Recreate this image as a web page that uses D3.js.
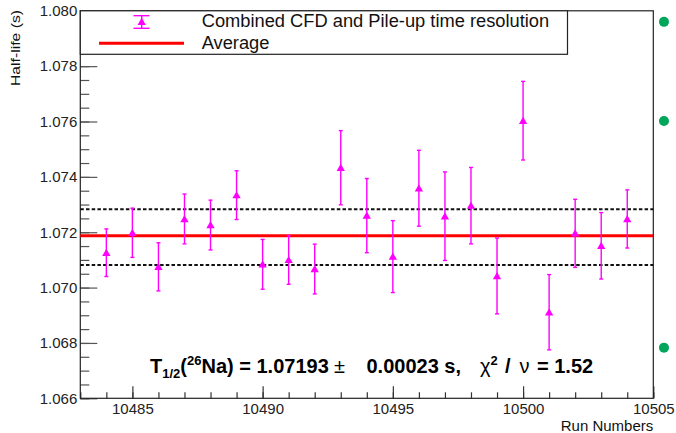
<!DOCTYPE html>
<html>
<head>
<meta charset="utf-8">
<script src="https://cdn.jsdelivr.net/npm/d3@7"></script>
<style>
  body { margin: 0; background: #fff; }
  svg { display: block; font-family: "Liberation Sans", Arial, Helvetica, sans-serif; }
</style>
</head>
<body>
<div id="chart"></div>
<script>
// run numbers and fitted half-lives (s) with their errors
const runs = [10484, 10485, 10486, 10487, 10488, 10489, 10490, 10491, 10492, 10493, 10494,
              10495, 10496, 10497, 10498, 10499, 10500, 10501, 10502, 10503, 10504];
const halfLife = [1.07126, 1.07198, 1.07075, 1.07248, 1.07226, 1.07334, 1.07084, 1.07100, 1.07067, 1.07433, 1.07260,
                  1.07112, 1.07359, 1.07258, 1.07296, 1.07042, 1.07603, 1.06911, 1.07196, 1.07151, 1.07248];
const halfLifeErr = [0.00086, 0.00089, 0.00087, 0.00090, 0.00090, 0.00088, 0.00090, 0.00088, 0.00090, 0.00134, 0.00134,
                     0.00130, 0.00137, 0.00160, 0.00138, 0.00137, 0.00142, 0.00136, 0.00123, 0.00120, 0.00105];

const average = 1.07187;
const bandLines = [1.07283, 1.07082];

const xMajorTicks = [10485, 10490, 10495, 10500, 10505];
const yMajorTicks = [1.066, 1.068, 1.070, 1.072, 1.074, 1.076, 1.078, 1.080];

const legendLabels = ["Combined CFD and Pile-up time resolution", "Average"];
const sideDots = [1.07960, 1.07602, 1.06783];

const width = 676, height = 433;
const margin = { left: 80.3, right: 22.7, top: 10.8, bottom: 34.7 };

const svg = d3.select("#chart").append("svg")
    .attr("width", width)
    .attr("height", height);

const x = d3.scaleLinear()
    .domain([10483, 10505])
    .range([margin.left, width - margin.right]);

const y = d3.scaleLinear()
    .domain([1.066, 1.080])
    .range([height - margin.bottom, margin.top]);

const plotBottom = height - margin.bottom;
const plotRight = width - margin.right;

// minor ticks
svg.append("g")
    .attr("transform", "translate(" + margin.left + ",0)")
    .call(d3.axisLeft(y).tickValues(d3.range(1.066, 1.08001, 0.0005)).tickSizeInner(-9).tickSizeOuter(0).tickFormat(""))
    .call(g => g.select(".domain").remove())
    .call(g => g.selectAll(".tick line").style("stroke", "#555").style("stroke-width", "1.2px"));

svg.append("g")
    .attr("transform", "translate(0," + plotBottom + ")")
    .call(d3.axisBottom(x).tickValues(d3.range(10483, 10506, 1)).tickSizeInner(-6).tickSizeOuter(0).tickFormat(""))
    .call(g => g.select(".domain").remove())
    .call(g => g.selectAll(".tick line").style("stroke", "#333").style("stroke-width", "1.2px"));

// major ticks + labels
const yAxis = svg.append("g")
    .attr("transform", "translate(" + margin.left + ",0)")
    .call(d3.axisLeft(y).tickValues(yMajorTicks).tickSizeInner(-17).tickSizeOuter(0).tickPadding(3).tickFormat(d3.format(".3f")));
yAxis.select(".domain").remove();
yAxis.selectAll(".tick line").style("stroke", "#555").style("stroke-width", "1.2px");
yAxis.selectAll(".tick text")
    .style("font-family", "'Liberation Sans', Arial, sans-serif")
    .style("font-size", "15px")
    .style("fill", "#222");

const xAxis = svg.append("g")
    .attr("transform", "translate(0," + plotBottom + ")")
    .call(d3.axisBottom(x).tickValues(xMajorTicks).tickSizeInner(-12).tickSizeOuter(0).tickPadding(5).tickFormat(d3.format("d")));
xAxis.select(".domain").remove();
xAxis.selectAll(".tick line").style("stroke", "#333").style("stroke-width", "1.2px");
xAxis.selectAll(".tick text")
    .style("font-family", "'Liberation Sans', Arial, sans-serif")
    .style("font-size", "15px")
    .style("fill", "#222");

// frame
svg.append("rect")
    .attr("x", margin.left)
    .attr("y", margin.top)
    .attr("width", plotRight - margin.left)
    .attr("height", plotBottom - margin.top)
    .style("fill", "none")
    .style("stroke", "#222")
    .style("stroke-width", "1.2px");

// +/- band (dashed)
svg.selectAll(".band")
    .data(bandLines)
    .enter().append("line")
    .attr("x1", margin.left)
    .attr("x2", plotRight)
    .attr("y1", d => y(d))
    .attr("y2", d => y(d))
    .style("stroke", "#111")
    .style("stroke-width", "2px")
    .style("stroke-dasharray", "3.5,2.2");

// average
svg.append("line")
    .attr("x1", margin.left)
    .attr("x2", plotRight)
    .attr("y1", y(average))
    .attr("y2", y(average))
    .style("stroke", "#ff0000")
    .style("stroke-width", "3px");

// error bars
const pts = runs.map((r, i) => ({ run: r, v: halfLife[i], e: halfLifeErr[i] }));
const magenta = "#ff00ff";
const capW = 2;

const eb = svg.append("g").selectAll("g")
    .data(pts)
    .enter().append("g");

eb.append("line")
    .attr("x1", d => x(d.run))
    .attr("x2", d => x(d.run))
    .attr("y1", d => y(d.v + d.e))
    .attr("y2", d => y(d.v - d.e))
    .style("stroke", magenta)
    .style("stroke-width", "1.4px");

eb.append("line")
    .attr("x1", d => x(d.run) - capW)
    .attr("x2", d => x(d.run) + capW)
    .attr("y1", d => y(d.v + d.e))
    .attr("y2", d => y(d.v + d.e))
    .style("stroke", magenta)
    .style("stroke-width", "1.4px");

eb.append("line")
    .attr("x1", d => x(d.run) - capW)
    .attr("x2", d => x(d.run) + capW)
    .attr("y1", d => y(d.v - d.e))
    .attr("y2", d => y(d.v - d.e))
    .style("stroke", magenta)
    .style("stroke-width", "1.4px");

const tri = d3.symbol().type(d3.symbolTriangle).size(30);

eb.append("path")
    .attr("d", tri)
    .attr("transform", d => "translate(" + x(d.run) + "," + (y(d.v) + 0.8) + ")")
    .style("fill", magenta);

// legend
const leg = svg.append("g");
leg.append("rect")
    .attr("x", margin.left)
    .attr("y", margin.top)
    .attr("width", 567.5 - margin.left)
    .attr("height", 54.3 - margin.top)
    .style("fill", "#fff")
    .style("stroke", "#222")
    .style("stroke-width", "1.2px");

leg.append("line")
    .attr("x1", 141.7).attr("x2", 141.7)
    .attr("y1", 15.7).attr("y2", 28.3)
    .style("stroke", magenta).style("stroke-width", "1.4px");
[15.7, 28.3].forEach(cy => {
    leg.append("line")
        .attr("x1", 133.5).attr("x2", 149.5)
        .attr("y1", cy).attr("y2", cy)
        .style("stroke", magenta).style("stroke-width", "1.4px");
});
leg.append("path")
    .attr("d", tri)
    .attr("transform", "translate(141.7,22.5)")
    .style("fill", magenta);

leg.append("line")
    .attr("x1", 99).attr("x2", 184)
    .attr("y1", 43.3).attr("y2", 43.3)
    .style("stroke", "#ff0000").style("stroke-width", "3px");

leg.selectAll("text.lab")
    .data(legendLabels)
    .enter().append("text")
    .attr("class", "lab")
    .attr("x", 201.7)
    .attr("y", (d, i) => i == 0 ? 26.7 : 48.7)
    .text(d => d)
    .style("font-size", "18.3px")
    .style("fill", "#111");

// axis titles
svg.append("text")
    .attr("transform", "translate(19.5,10) rotate(-90)")
    .attr("text-anchor", "end")
    .attr("textLength", 76)
    .attr("lengthAdjust", "spacingAndGlyphs")
    .text("Half-life (s)")
    .style("font-size", "13px")
    .style("fill", "#111");

svg.append("text")
    .attr("x", plotRight)
    .attr("y", 431)
    .attr("text-anchor", "end")
    .text("Run Numbers")
    .style("font-size", "15px")
    .style("fill", "#111");

// result annotation
const note = svg.append("text")
    .attr("x", 150)
    .attr("y", 373.3)
    .style("white-space", "pre")
    .style("font-size", "20px")
    .style("font-weight", "bold")
    .style("fill", "#000");
note.append("tspan").text("T");
note.append("tspan").attr("dy", 5).style("font-size", "13px").text("1/2");
note.append("tspan").attr("dy", -5).text("(");
note.append("tspan").attr("dy", -8).style("font-size", "13px").text("26");
note.append("tspan").attr("dy", 8).text("Na) = 1.07193");
note.append("tspan").attr("x", 334).style("font-weight", "normal").text("\u00b1");
note.append("tspan").attr("x", 366.5).text("0.00023 s,");
note.append("tspan").attr("x", 480).style("font-weight", "normal").text("\u03c7");
note.append("tspan").attr("dy", -8).style("font-size", "13px").text("2");
note.append("tspan").attr("x", 505).attr("dy", 8).text("/");
note.append("tspan").attr("x", 519.5).style("font-weight", "normal").text("\u03bd");
note.append("tspan").attr("x", 537).text("= 1.52");

// green markers on the right margin
svg.selectAll(".dot")
    .data(sideDots)
    .enter().append("circle")
    .attr("cx", x(10505.41))
    .attr("cy", d => y(d))
    .attr("r", 5)
    .style("fill", "#00a65a");
</script>
</body>
</html>
